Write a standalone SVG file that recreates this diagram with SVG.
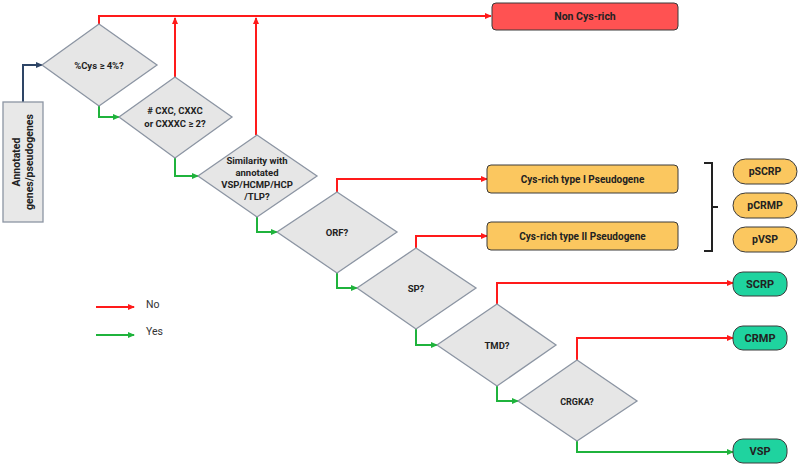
<svg xmlns="http://www.w3.org/2000/svg" width="800" height="467" viewBox="0 0 800 467">
<style>
.dia{fill:#e6e6e6;stroke:#8c95a3;stroke-width:1.3}
.t{font-family:Roboto,"Liberation Sans",sans-serif;font-weight:bold;fill:#222;text-anchor:middle}
.red{fill:none;stroke:#ff1a1a;stroke-width:2}
.grn{fill:none;stroke:#1fb33c;stroke-width:2}
.nav{fill:none;stroke:#2e4566;stroke-width:2}
.rbox{fill:#ff5252;stroke:#3a3a3a;stroke-width:1}
.obox{fill:#fbc75f;stroke:#3a3a3a;stroke-width:1}
.gbox{fill:#1fd39f;stroke:#3a3a3a;stroke-width:1}
.leg{font-family:Roboto,"Liberation Sans",sans-serif;font-size:10.5px;fill:#333}
</style>
<defs>
<marker id="ar" markerUnits="userSpaceOnUse" markerWidth="7" markerHeight="6" refX="6" refY="3" orient="auto"><path d="M0,0 L7,3 L0,6 z" fill="#ff1a1a"/></marker>
<marker id="ag" markerUnits="userSpaceOnUse" markerWidth="7" markerHeight="6" refX="6" refY="3" orient="auto"><path d="M0,0 L7,3 L0,6 z" fill="#1fb33c"/></marker>
<marker id="an" markerUnits="userSpaceOnUse" markerWidth="7" markerHeight="6" refX="6" refY="3" orient="auto"><path d="M0,0 L7,3 L0,6 z" fill="#2e4566"/></marker>
</defs>
<rect width="800" height="467" fill="#fff"/>
<g id="connectors">
<path class="nav" d="M23,102 V65 H42" marker-end="url(#an)"/>
<path class="red" d="M99,24 V16 H491" marker-end="url(#ar)"/>
<path class="red" d="M175,77 V18" marker-end="url(#ar)"/>
<path class="red" d="M256,135 V18" marker-end="url(#ar)"/>
<path class="grn" d="M99,106 V117 H119" marker-end="url(#ag)"/>
<path class="grn" d="M175,158 V176 H198" marker-end="url(#ag)"/>
<path class="grn" d="M257,217 V232 H277" marker-end="url(#ag)"/>
<path class="red" d="M337,192 V179 H487" marker-end="url(#ar)"/>
<path class="grn" d="M337,273 V288 H357" marker-end="url(#ag)"/>
<path class="red" d="M416,248 V236 H487" marker-end="url(#ar)"/>
<path class="grn" d="M416,329 V345 H437" marker-end="url(#ag)"/>
<path class="red" d="M497,304 V283 H733" marker-end="url(#ar)"/>
<path class="grn" d="M497,386 V401 H518" marker-end="url(#ag)"/>
<path class="red" d="M577,360 V338 H733" marker-end="url(#ar)"/>
<path class="grn" d="M577,441 V452 H733" marker-end="url(#ag)"/>
<path fill="none" stroke="#222" stroke-width="2" d="M704,163 H712 V251 H704 M712,207 H718"/>
</g>
<g id="start">
<rect x="3" y="102" width="40" height="120" fill="#e8e8e8" stroke="#8c95a3" stroke-width="1.3"/>
<text class="t" font-size="10.5" transform="translate(23,162) rotate(-90)"><tspan x="0" y="-3">Annotated</tspan><tspan x="0" y="10">genes/pseudogenes</tspan></text>
</g>
<g id="d1">
<polygon class="dia" points="99,24 157,65 99,106 42,65"/>
<text class="t" font-size="9.5" x="99" y="69">%Cys ≥ 4%?</text>
</g>
<g id="d2">
<polygon class="dia" points="175,77 232,117 175,158 119,117"/>
<text class="t" font-size="9.5"><tspan x="175" y="114">#  CXC, CXXC</tspan><tspan x="175" y="127">or CXXXC ≥ 2?</tspan></text>
</g>
<g id="d3">
<polygon class="dia" points="257,135 317,176 257,217 198,176"/>
<text class="t" font-size="9.5"><tspan x="257" y="164">Similarity with</tspan><tspan x="257" y="176">annotated</tspan><tspan x="257" y="188">VSP/HCMP/HCP</tspan><tspan x="257" y="200">/TLP?</tspan></text>
</g>
<g id="d4">
<polygon class="dia" points="337,192 397,232 337,273 277,232"/>
<text class="t" font-size="9.5" x="337" y="236">ORF?</text>
</g>
<g id="d5">
<polygon class="dia" points="416,248 476,288 416,329 357,288"/>
<text class="t" font-size="9.5" x="416" y="292">SP?</text>
</g>
<g id="d6">
<polygon class="dia" points="497,304 556,345 497,386 437,345"/>
<text class="t" font-size="9.5" x="497" y="349">TMD?</text>
</g>
<g id="d7">
<polygon class="dia" points="577,360 637,401 577,441 518,401"/>
<text class="t" font-size="9" x="577" y="405">CRGKA?</text>
</g>
<g id="noncys">
<rect class="rbox" x="492" y="3" width="186" height="27" rx="4"/>
<text class="t" font-size="10.5" x="585" y="20">Non Cys-rich</text>
</g>
<g id="pseudo1">
<rect class="obox" x="487" y="165" width="191" height="28" rx="4"/>
<text class="t" font-size="10" x="582.5" y="183">Cys-rich type I Pseudogene</text>
</g>
<g id="pseudo2">
<rect class="obox" x="487" y="222" width="191" height="28" rx="4"/>
<text class="t" font-size="10" x="582.5" y="240">Cys-rich type II Pseudogene</text>
</g>
<g id="pSCRP">
<rect class="obox" x="733" y="159" width="64" height="25" rx="12.5"/>
<text class="t" font-size="10.5" x="765" y="175">pSCRP</text>
</g>
<g id="pCRMP">
<rect class="obox" x="733" y="193" width="64" height="25" rx="12.5"/>
<text class="t" font-size="10.5" x="765" y="209">pCRMP</text>
</g>
<g id="pVSP">
<rect class="obox" x="733" y="227" width="64" height="25" rx="12.5"/>
<text class="t" font-size="10.5" x="765" y="243">pVSP</text>
</g>
<g id="SCRP">
<rect class="gbox" x="733" y="272" width="54" height="24" rx="10"/>
<text class="t" font-size="11" x="760" y="288">SCRP</text>
</g>
<g id="CRMP">
<rect class="gbox" x="733" y="326" width="54" height="24" rx="10"/>
<text class="t" font-size="11" x="760" y="342">CRMP</text>
</g>
<g id="VSP">
<rect class="gbox" x="733" y="439" width="54" height="24" rx="10"/>
<text class="t" font-size="11" x="760" y="455">VSP</text>
</g>
<g id="legend">
<path class="red" d="M96,307 H134" marker-end="url(#ar)"/>
<path class="grn" d="M96,335 H134" marker-end="url(#ag)"/>
<text class="leg" x="146" y="308">No</text>
<text class="leg" x="146" y="335">Yes</text>
</g>
</svg>
